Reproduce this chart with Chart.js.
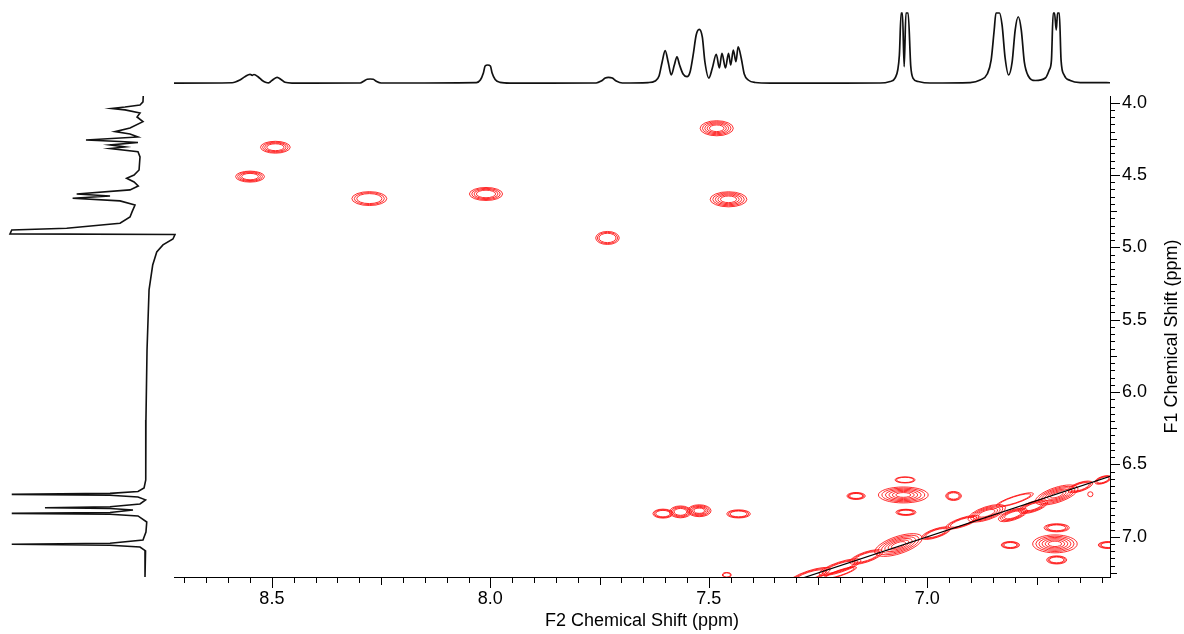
<!DOCTYPE html>
<html>
<head>
<meta charset="utf-8">
<title>COSY spectrum</title>
<script src="https://cdn.jsdelivr.net/npm/chart.js@4.4.1/dist/chart.umd.min.js"></script>
<style>
  body { margin: 0; background: #fff; }
  #wrap { position: relative; width: 1184px; height: 634px; }
  canvas { position: absolute; }
  #main { left: 0; top: 0; }
  #top { left: 174px; top: 0; }
  #side { left: 0; top: 96px; }
</style>
</head>
<body>
<div id="wrap">
  <canvas id="main" width="1184" height="634"></canvas>
  <canvas id="top" width="936" height="90"></canvas>
  <canvas id="side" width="176" height="481"></canvas>
</div>
<script>
// axis windows (ppm)
const F2_LEFT = 8.724, F2_RIGHT = 6.582;
const F1_TOP = 3.954, F1_BOTTOM = 7.278;

const f2TickLabels = ['8.5', '8.0', '7.5', '7.0'];
const f1TickLabels = ['4.0', '4.5', '5.0', '5.5', '6.0', '6.5', '7.0'];

// F2 projection (top trace)
const topPpm = [8.724, 8.591, 8.573, 8.561, 8.550, 8.545, 8.541, 8.531, 8.522, 8.513, 8.508,
  8.504, 8.497, 8.488, 8.479, 8.470, 8.454,
  8.298, 8.289, 8.282, 8.275, 8.268, 8.261, 8.250,
  8.032, 8.023, 8.016, 8.012, 8.006, 8.000, 7.996, 7.989, 7.978, 7.955,
  7.758, 7.746, 7.737, 7.730, 7.721, 7.712, 7.698,
  7.639, 7.623, 7.614, 7.607, 7.600, 7.593, 7.586, 7.579, 7.573, 7.567, 7.559, 7.550,
  7.543, 7.536, 7.529, 7.522, 7.515, 7.509, 7.500,
  7.492, 7.483, 7.476, 7.470, 7.462, 7.455, 7.450, 7.444, 7.438, 7.433, 7.426, 7.419, 7.410, 7.394, 7.359,
  7.108, 7.085, 7.074, 7.064, 7.060, 7.057, 7.053, 7.049, 7.044, 7.038, 7.033, 7.021, 6.994,
  6.902, 6.879, 6.863, 6.854, 6.847, 6.843, 6.835, 6.829, 6.822, 6.814,
  6.806, 6.799, 6.792, 6.785, 6.778, 6.769, 6.753,
  6.730, 6.721, 6.716, 6.712, 6.709, 6.705, 6.702, 6.698, 6.694, 6.687, 6.673, 6.650, 6.616, 6.577];
const topIntensity = [0.3, 0.8, 4.7, 9.7, 12.8, 11.4, 12.5, 9, 4, 1.1, 0.6,
  1.8, 5.4, 8.5, 5.4, 1.4, 0.3,
  0.4, 3.3, 5.7, 6.1, 5.7, 2.8, 0.4,
  1.1, 4.7, 14.7, 24.6, 26, 24.6, 14.7, 5.4, 1.4, 0.3,
  0.4, 3.3, 7.5, 8.5, 7.5, 3.3, 0.4,
  1.1, 3.3, 10.4, 30, 46.4, 30, 11.8, 26, 37.8, 26, 13.2, 9.4,
  16, 40, 68.7, 76.8, 65.9, 30.3, 7.5,
  21.8, 41.3, 21.8, 42.7, 21.8, 42.7, 26, 47.4, 30.7, 52, 36, 13.2, 4.7, 1.1, 0.3,
  0.4, 2.6, 7.5, 40, 100, 100, 23.6, 100, 100, 24.6, 7.5, 2.6, 0.4,
  1.1, 4.7, 13.2, 33, 75.8, 100, 100, 83, 36, 11.8,
  30, 75.8, 94.7, 75.8, 30, 10.4, 4,
  7.5, 19, 33, 100, 100, 75.8, 100, 100, 33, 11.8, 4, 1.1, 1.1, 0.7];

// F1 projection (left trace), intensity grows to the left
const sidePpm = [3.954, 3.995, 4.016, 4.030, 4.040, 4.050, 4.071, 4.099, 4.131, 4.175, 4.200,
  4.216, 4.237, 4.258, 4.268, 4.275, 4.292, 4.306, 4.317, 4.339, 4.375, 4.465, 4.500,
  4.522, 4.548, 4.576, 4.603, 4.631, 4.645, 4.661, 4.679, 4.707, 4.755, 4.790, 4.833,
  4.868, 4.880, 4.907, 4.911, 4.942, 4.983, 5.032, 5.122, 5.294, 5.709, 6.193, 6.539,
  6.607, 6.663, 6.687, 6.700, 6.707, 6.713, 6.725, 6.745, 6.773, 6.793, 6.799, 6.805,
  6.815, 6.832, 6.838, 6.844, 6.856, 6.898, 6.967, 7.022, 7.045, 7.052, 7.059, 7.071,
  7.098, 7.278];
const sideIntensity = [1.3, 1.5, 3.7, 14.8, 24.7, 14.8, 3.7, 5.9, 1.5, 11.1, 22.2,
  11.1, 5.2, 43.7, 18.5, 5.2, 25.9, 14.8, 25.9, 5.2, 3.7, 4.4, 8.1,
  13.6, 8.1, 5.0, 11.1, 50.6, 25.9, 53.6, 18.5, 7.4, 9.6, 11.1, 18.5,
  58, 98.7, 100, -22.2, -20.7, -13.3, -8.7, -5.7, -3.0, -1.5, -0.7, -0.4,
  -0.7, 0.7, 5.2, 25.9, 98.7, 25.9, 5.2, -0.4, 3.7, 25.9, 74.1, 25.9,
  8.9, 25.9, 98.7, 25.9, 5.2, -1.3, -0.7, 1.5, 25.9, 98.7, 25.9, 3.7,
  -0.4, 0];

// cross peaks: centre (F2, F1), half widths in ppm, contour levels, 1 = lies along the diagonal
const peakF2 = [7.482, 7.455, 8.492, 8.550, 8.277, 8.010, 7.732,
  7.605, 7.565, 7.522, 7.432, 7.459,
  7.051, 7.163, 7.055, 7.049, 6.940, 6.627, 6.704, 6.708, 6.704, 6.810, 6.586,
  7.066, 6.704, 6.598, 6.864, 6.804, 6.758, 6.800, 6.920, 6.980, 7.140, 7.200, 7.270, 7.200, 6.650];
const peakF1 = [4.177, 4.668, 4.308, 4.511, 4.663, 4.631, 4.935,
  6.840, 6.828, 6.820, 6.842, 7.264,
  6.607, 6.718, 6.711, 6.831, 6.718, 6.706, 6.938, 7.049, 7.160, 7.057, 7.057,
  7.057, 6.711, 6.607, 6.838, 6.849, 6.792, 6.745, 6.900, 6.975, 7.140, 7.210, 7.270, 7.250, 6.655];
const peakHalfW = [0.038, 0.042, 0.034, 0.033, 0.040, 0.038, 0.027,
  0.023, 0.025, 0.027, 0.027, 0.010,
  0.023, 0.021, 0.057, 0.023, 0.018, 0.006, 0.029, 0.051, 0.023, 0.021, 0.023,
  0.057, 0.051, 0.020, 0.045, 0.035, 0.035, 0.045, 0.040, 0.035, 0.040, 0.050, 0.050, 0.040, 0.030];
const peakHalfH = [0.052, 0.052, 0.041, 0.038, 0.048, 0.045, 0.045,
  0.031, 0.041, 0.041, 0.028, 0.017,
  0.021, 0.024, 0.055, 0.021, 0.031, 0.017, 0.028, 0.062, 0.028, 0.024, 0.024,
  0.060, 0.052, 0.024, 0.045, 0.035, 0.035, 0.025, 0.030, 0.030, 0.035, 0.035, 0.035, 0.020, 0.030];
const peakLevels = [5, 5, 4, 4, 3, 4, 3,
  3, 4, 5, 3, 2,
  2, 3, 6, 3, 3, 1, 3, 6, 3, 3, 3,
  6, 6, 3, 5, 4, 4, 2, 3, 3, 3, 3, 3, 2, 3];
const peakTilt = [0, 0, 0, 0, 0, 0, 0,
  0, 0, 0, 0, 0,
  0, 0, 0, 0, 0, 0, 0, 0, 0, 0, 0,
  1, 1, 1, 1, 1, 1, 1, 1, 1, 1, 1, 1, 1, 1];

// diagonal F1 = F2
const diagPpm = [7.4, 6.5];

const FONT = "'Liberation Sans', Arial, sans-serif";

function isStep(v, n) {
  return Math.abs(v * n - Math.round(v * n)) < 1e-6;
}

function pickLabel(list) {
  return function (v) {
    const t = Number(v).toFixed(1);
    return (isStep(v, 2) && list.includes(t)) ? t : '';
  };
}

// contour rings around each cross peak
const contourPlugin = {
  id: 'contours',
  beforeDatasetsDraw(chart) {
    const { ctx, chartArea, scales: { x, y } } = chart;
    const a = x.getPixelForValue(7), b = y.getPixelForValue(7);
    const tilt = Math.atan2(y.getPixelForValue(6.5) - b, x.getPixelForValue(6.5) - a);
    ctx.save();
    ctx.beginPath();
    ctx.rect(chartArea.left, chartArea.top, chartArea.right - chartArea.left, chartArea.bottom - chartArea.top);
    ctx.clip();
    ctx.strokeStyle = 'rgba(255,10,10,0.95)';
    ctx.lineWidth = 0.9;
    peakF2.forEach((f2, i) => {
      const cx = x.getPixelForValue(f2);
      const cy = y.getPixelForValue(peakF1[i]);
      const rx = Math.abs(x.getPixelForValue(f2 + peakHalfW[i]) - cx);
      const ry = Math.abs(y.getPixelForValue(peakF1[i] + peakHalfH[i]) - cy);
      const ang = peakTilt[i] ? tilt : 0;
      for (let k = 0; k < peakLevels[i]; k++) {
        const s = Math.max(0.2, 1 - k * 0.14);
        ctx.beginPath();
        ctx.ellipse(cx, cy, rx * s, ry * s, ang, 0, Math.PI * 2);
        ctx.stroke();
      }
    });
    ctx.restore();
  }
};

// tick marks of three lengths and the rotated F1 title
const axisPlugin = {
  id: 'axisMarks',
  afterDraw(chart) {
    const { ctx, chartArea, scales: { x, y } } = chart;
    ctx.save();
    ctx.strokeStyle = '#000';
    ctx.lineWidth = 1;
    ctx.beginPath();
    x.ticks.forEach(t => {
      const px = Math.round(x.getPixelForValue(t.value)) + 0.5;
      const len = isStep(t.value, 2) ? 11 : isStep(t.value, 4) ? 8 : 6;
      ctx.moveTo(px, chartArea.bottom);
      ctx.lineTo(px, chartArea.bottom + len);
    });
    y.ticks.forEach(t => {
      const py = Math.round(y.getPixelForValue(t.value)) + 0.5;
      const len = isStep(t.value, 2) ? 10 : isStep(t.value, 4) ? 7 : 5;
      ctx.moveTo(chartArea.right, py);
      ctx.lineTo(chartArea.right + len, py);
    });
    ctx.stroke();

    ctx.fillStyle = '#000';
    ctx.font = '18px ' + FONT;
    ctx.textAlign = 'center';
    ctx.textBaseline = 'middle';
    ctx.translate(1172, (chartArea.top + chartArea.bottom) / 2);
    ctx.rotate(-Math.PI / 2);
    ctx.fillText('F1 Chemical Shift (ppm)', 0, 0);
    ctx.restore();
  }
};

new Chart(document.getElementById('main'), {
  type: 'scatter',
  data: {
    datasets: [
      {
        data: diagPpm.map(v => ({ x: v, y: v })),
        showLine: true,
        borderColor: '#000',
        borderWidth: 1.2,
        pointRadius: 0
      },
      {
        data: peakF2.map((v, i) => ({ x: v, y: peakF1[i] })),
        pointRadius: 0
      }
    ]
  },
  options: {
    responsive: false,
    animation: false,
    layout: { padding: { left: 174, top: 96, right: 0, bottom: 0 } },
    plugins: { legend: { display: false }, tooltip: { enabled: false } },
    scales: {
      x: {
        type: 'linear',
        position: 'bottom',
        reverse: true,
        min: F2_RIGHT,
        max: F2_LEFT,
        afterFit: s => { s.height = 57; },
        border: { display: true, color: '#000', width: 1 },
        grid: { drawOnChartArea: false, drawTicks: true, tickLength: 11, color: 'rgba(0,0,0,0)' },
        ticks: {
          stepSize: 0.05, autoSkip: false, maxRotation: 0, includeBounds: false,
          padding: 0, color: '#000', font: { family: FONT, size: 18 },
          callback: pickLabel(f2TickLabels)
        },
        title: {
          display: true, text: 'F2 Chemical Shift (ppm)', color: '#000',
          font: { family: FONT, size: 18 }, padding: { top: 0, bottom: 2 }
        }
      },
      y: {
        type: 'linear',
        position: 'right',
        reverse: true,
        min: F1_TOP,
        max: F1_BOTTOM,
        afterFit: s => { s.width = 74; },
        border: { display: true, color: '#000', width: 1 },
        grid: { drawOnChartArea: false, drawTicks: true, tickLength: 10, color: 'rgba(0,0,0,0)' },
        ticks: {
          stepSize: 0.05, autoSkip: false, includeBounds: false,
          padding: 2, color: '#000', font: { family: FONT, size: 18 },
          callback: pickLabel(f1TickLabels)
        }
      }
    }
  },
  plugins: [contourPlugin, axisPlugin]
});

// top projection
new Chart(document.getElementById('top'), {
  type: 'scatter',
  data: {
    datasets: [{
      data: topPpm.map((v, i) => ({ x: v, y: topIntensity[i] })),
      showLine: true,
      borderColor: '#111',
      borderWidth: 1.7,
      pointRadius: 0,
      cubicInterpolationMode: 'monotone'
    }]
  },
  options: {
    responsive: false,
    animation: false,
    layout: { padding: 0 },
    plugins: { legend: { display: false }, tooltip: { enabled: false } },
    scales: {
      x: { type: 'linear', display: false, reverse: true, min: F2_RIGHT, max: F2_LEFT },
      y: { type: 'linear', display: false, min: -9.53, max: 118.5 }
    }
  }
});

// left projection
new Chart(document.getElementById('side'), {
  type: 'scatter',
  data: {
    datasets: [{
      data: sidePpm.map((v, i) => ({ x: sideIntensity[i], y: v })),
      showLine: true,
      borderColor: '#111',
      borderWidth: 1.6,
      pointRadius: 0
    }]
  },
  options: {
    responsive: false,
    animation: false,
    layout: { padding: 0 },
    plugins: { legend: { display: false }, tooltip: { enabled: false } },
    scales: {
      x: { type: 'linear', display: false, reverse: true, min: -22.96, max: 107.4 },
      y: { type: 'linear', display: false, reverse: true, min: F1_TOP, max: F1_BOTTOM }
    }
  }
});
</script>
</body>
</html>
